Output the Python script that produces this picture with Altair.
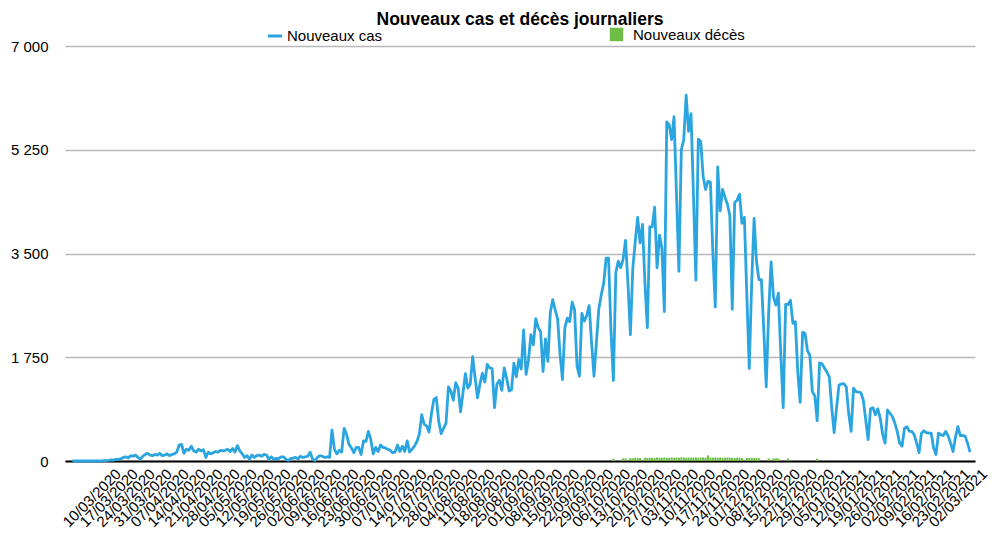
import altair as alt
import pandas as pd

START = "2020-02-26"
cases = [
    0, 0, 0, 0, 0, 0, 1, 0, 1, 0, 2, 0, 1,
    5, 8, 10, 20, 15, 30, 25, 40,
    60, 70, 50, 90, 80, 100, 60,
    30,
    80, 110, 130, 100, 90,
    110, 100, 130, 90, 100, 120, 90, 110,
    120, 150, 270, 280, 130, 200, 180, 250, 170, 150, 200, 170, 190,
    60, 150, 120, 140, 160, 150, 180, 170, 180, 200, 160, 210, 150, 260, 170,
    120, 60, 90, 30, 100, 60, 90, 100, 80, 110, 100, 30, 70, 30, 45,
    40, 70, 70, 30, 10, 40, 50, 60, 40, 80, 60, 70, 80, 150, 30,
    10, 60, 90, 80, 60, 70, 60, 520, 200, 120, 180, 150, 550, 450, 280,
    220, 140, 230, 230, 110, 340, 330, 500, 360, 120, 230, 160, 270, 230, 220,
    200, 180, 140, 150, 270, 160, 250, 160, 340, 150, 200, 250, 330, 450, 780,
    620, 590, 490, 800, 1040, 1070, 670, 460, 550, 640, 1250, 1180, 1025, 1320, 1230,
    830, 1150, 1475, 1230, 1300, 1760, 1400, 1065, 1300, 1480, 1330, 1630, 1570, 1560, 900,
    1300, 1360, 1190, 1570, 1400, 1180, 1200, 1650, 1420, 1710, 1550, 2210, 1460, 1700, 2130,
    1960, 2400, 2250, 2180, 1510, 2060, 1680, 2510, 2720, 2550, 2400, 1800, 1375, 2250, 2410,
    2350, 2680, 2550, 1600, 1430, 2490, 2360, 2450, 2620, 2000, 1430, 2000, 2570, 2800, 3000,
    3420, 3420, 2200, 1360, 3180, 3370, 3260, 3400, 3720, 3000, 2130, 3250, 3700, 4110, 3680,
    3990, 3000, 2250, 3950, 3950, 4280, 3260, 3810, 3590, 2520, 5720, 5670, 5420, 5810, 4500,
    3200, 5250, 5420, 6170, 5560, 5860, 4500, 3050, 5430, 5390, 4800, 4580, 4720, 4700, 3500,
    2600, 4960, 4220, 4580, 4450, 4330, 4140, 2560, 4360, 4400, 4500, 4010, 4110, 2800, 1560,
    3000, 4090, 3360, 3060, 3060, 2200, 1250, 2500, 3360, 2770, 2630, 2830, 1800, 900, 2640,
    2640, 2710, 2320, 2350, 1500, 990, 2170, 2150, 1860, 1780, 1170, 1100, 680, 1655, 1640,
    1570, 1500, 1420, 900, 480, 900, 1280, 1300, 1305, 1250, 800, 500, 1230, 1170, 1160,
    1155, 1030, 700, 360, 880, 900, 780, 880, 720, 450, 300, 860, 805, 750, 640,
    500, 300, 250, 555, 580, 500, 500, 445, 300, 140, 470, 510, 480, 470, 470,
    220, 110, 470, 440, 430, 500, 420, 300, 160, 400, 580, 430, 430, 420, 300, 150,
]

DEATHS_START = "2020-10-06"
deaths = [
    40, 0, 0, 0, 45, 45, 0, 50, 45, 55, 50, 50, 0,
    55, 50, 55, 55, 50, 60, 55, 55, 60, 55,
    55, 60, 55, 60, 55, 60, 60, 55, 60, 55,
    60, 60, 55, 60, 60, 55, 95, 60, 55, 60,
    55, 60, 55, 55, 60, 55, 55, 50, 55, 55,
    50,
    0, 50, 50, 55, 50, 50, 45, 0, 0, 0, 45, 0, 45, 45, 45, 0, 0, 0, 45,
    0, 0, 0, 0, 0, 0, 0, 0, 0, 0, 0, 40,
]

TICK_START = "2020-03-10"
TICK_END = "2021-03-02"
y_ticks = [0, 1750, 3500, 5250, 7000]

CASES_NAME = "Nouveaux cas"
DEATHS_NAME = "Nouveaux décès"
BLUE = "#2aa5e0"
GREEN = "#6fbd47"

dates = pd.date_range(START, periods=len(cases), freq="D")
cases_df = pd.DataFrame({"date": dates.strftime("%Y-%m-%d"), "value": cases, "series": CASES_NAME})
d_dates = pd.date_range(DEATHS_START, periods=len(deaths), freq="D")
deaths_df = pd.DataFrame({"date": d_dates.strftime("%Y-%m-%d"), "value": deaths, "series": DEATHS_NAME})
deaths_df = deaths_df[deaths_df["value"] > 0]

def ms(ts):
    return int(pd.Timestamp(ts).value // 10**6)

tick_values = [ms(t) for t in pd.date_range(TICK_START, TICK_END, freq="7D")]
domain = [ms(dates[0] - pd.Timedelta(days=1)), ms(dates[-1])]

FONT = "Liberation Sans"

x_enc = alt.X(
    "date:T",
    scale=alt.Scale(type="utc", domain=domain),
    axis=alt.Axis(
        values=tick_values, format="%d/%m/%Y", labelAngle=-45, labelAlign="right",
        labelBaseline="middle", labelFontSize=15, labelFont=FONT, labelColor="#000",
        labelPadding=10, labelOffset=14, labelOverlap=False, labelBound=False,
        ticks=False, grid=False, domain=True, domainColor="#000", domainWidth=2, title=None,
    ),
)
y_scale = alt.Scale(domain=[0, 7000], nice=False)
y_axis = alt.Axis(
    values=y_ticks, labelExpr="replace(format(datum.value, ','), ',', ' ')",
    labelFontSize=15, labelFont=FONT, labelColor="#000", labelPadding=17,
    grid=True, gridColor="#b8b8b8", gridWidth=1.5, domain=False, ticks=False, title=None,
)

bars = alt.Chart(deaths_df).mark_bar(size=2).encode(
    x=x_enc,
    y=alt.Y("value:Q", scale=y_scale, axis=y_axis),
    fill=alt.Fill("series:N", scale=alt.Scale(domain=[DEATHS_NAME], range=[GREEN]),
                  legend=alt.Legend(title=None, orient="none", legendX=544, legendY=-19,
                                    symbolType="square", symbolSize=180, symbolStrokeWidth=0,
                                    labelFontSize=15, labelFont=FONT, labelColor="#000",
                                    labelOffset=9)),
)

line = alt.Chart(cases_df).mark_line(strokeWidth=2.8, strokeJoin="round").encode(
    x=x_enc,
    y=alt.Y("value:Q", scale=y_scale, axis=y_axis),
    stroke=alt.Stroke("series:N", scale=alt.Scale(domain=[CASES_NAME], range=[BLUE]),
                      legend=alt.Legend(title=None, orient="none", legendX=201, legendY=-19,
                                        symbolType="stroke", symbolSize=200, symbolStrokeWidth=3,
                                        labelFontSize=15, labelFont=FONT, labelColor="#000",
                                        labelOffset=3)),
)

chart = alt.layer(bars, line).resolve_scale(fill="independent", stroke="independent").properties(
    width=910, height=415,
    background="white",
    title=alt.TitleParams("Nouveaux cas et décès journaliers", font=FONT, fontSize=17.5,
                          fontWeight="bold", color="#000", anchor="middle", offset=0, dy=1),
    autosize=alt.AutoSizeParams(type="none"),
    padding={"left": 57, "top": 38, "right": 17, "bottom": 77},
).configure_view(stroke=None)

chart.save("out.html", embed_options={"renderer": "svg", "actions": False})
